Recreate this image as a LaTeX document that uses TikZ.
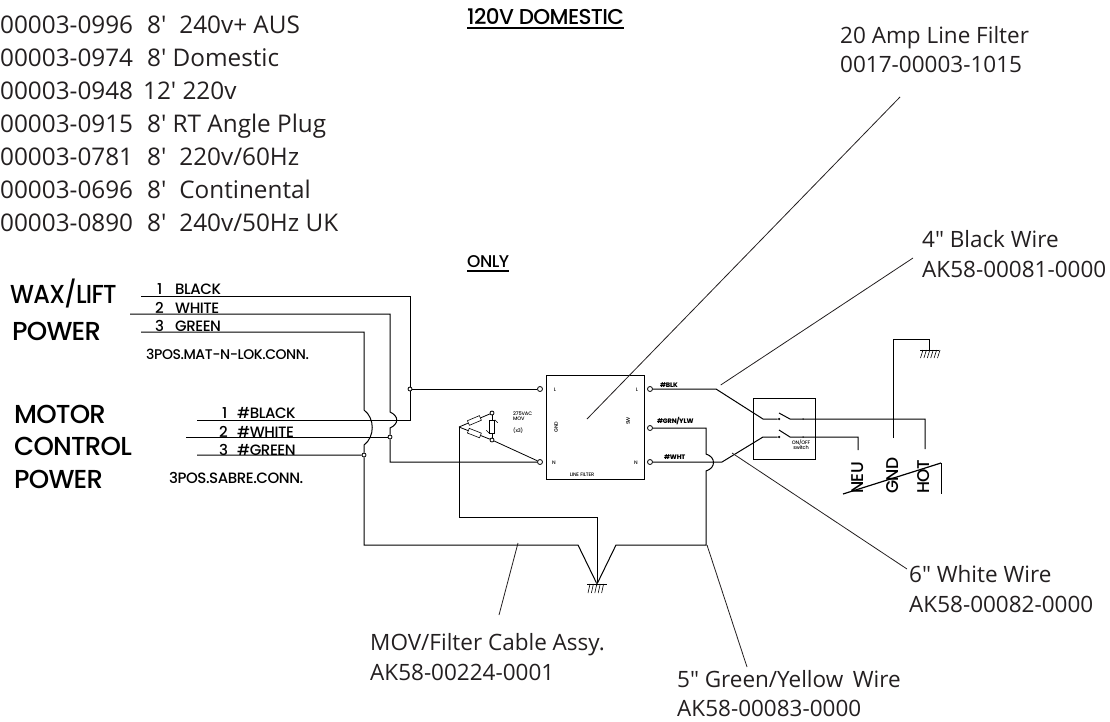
\documentclass[tikz,border=0pt]{standalone}
\usepackage{fontspec}
\setmainfont{Open Sans}
\newfontfamily\cadfont[LetterSpace=-3,UprightFont=* Medium]{Poppins}
\usetikzlibrary{positioning,calc}
\definecolor{inkc}{HTML}{231F20}

\begin{document}
\begin{tikzpicture}[x=1pt,y=-1pt,
    note/.style={anchor=base west, inner sep=0pt, text=inkc, font=\fontsize{22.5}{26}\selectfont},
    part/.style={anchor=base west, inner sep=0pt, text=inkc, font=\fontsize{24.3}{28}\selectfont},
    cad/.style={anchor=base west, inner sep=0pt, font=\cadfont\fontsize{15}{18}\selectfont},
    cadbig/.style={anchor=base west, inner sep=0pt, font=\cadfont\fontsize{26}{30}\selectfont},
    tiny/.style={inner sep=0pt, font=\cadfont\fontsize{5}{6}\selectfont},
    wirelabel/.style={anchor=base west, inner sep=0pt, font=\cadfont\bfseries\fontsize{6.5}{8}\selectfont},
    wire/.style={draw=black, line width=1pt},
    leader/.style={draw=inkc, line width=0.8pt},
    term/.style={circle, draw=black, line width=0.8pt, fill=white, inner sep=0pt, minimum size=5pt},
    joint/.style={circle, draw=black, line width=0.8pt, inner sep=0pt, minimum size=4pt},
    pin/.style={circle, fill=black, inner sep=0pt, minimum size=2.5pt},
    mov/.style={rectangle, draw=black, line width=0.6pt, fill=white, inner sep=0pt, minimum width=13pt, minimum height=5pt}]

\useasboundingbox (0,0) rectangle (1110,721);

\node [part] (l1) at (0,33) {00003-0996\hspace{14pt}8′\hspace{13pt}240v+ AUS};
\node [part] (l2) at (0,66) {00003-0974\hspace{14pt}8′ Domestic};
\node [part] (l3) at (0,99) {00003-0948\hspace{10pt}12′ 220v};
\node [part] (l4) at (0,132) {00003-0915\hspace{14pt}8′ RT Angle Plug};
\node [part] (l5) at (0,165) {00003-0781\hspace{14pt}8′\hspace{13pt}220v/60Hz};
\node [part] (l6) at (0,198) {00003-0696\hspace{14pt}8′\hspace{13pt}Continental};
\node [part] (l7) at (0,231) {00003-0890\hspace{14pt}8′\hspace{13pt}240v/50Hz UK};

\node [cad, font=\cadfont\fontsize{21.5}{24}\selectfont] (domestic) at (467,24) {120V DOMESTIC};
\node [cad, font=\cadfont\fontsize{17}{20}\selectfont] (only) at (467,267) {ONLY};
\draw [line width=2pt] (domestic.base west)++(0,4) -- ($(domestic.base east)+(0,4)$);
\draw [line width=1.4pt] (only.base west)++(0,4) -- ($(only.base east)+(0,4)$);

\node [cadbig] (wax) at (10,303) {\scalebox{0.92}[1]{WAX/LIFT}};
\node [cadbig] (pow1) at (12,340) {POWER};
\node [cadbig] (motor) at (14,423) {MOTOR};
\node [cadbig] (control) at (14,455) {CONTROL};
\node [cadbig] (pow2) at (14,488) {POWER};

\node [cad] (n1) at (157,294) {1};
\node [cad] (black) at (175,294) {BLACK};
\node [cad] (n2) at (155,313) {2};
\node [cad] (white) at (175,313) {WHITE};
\node [cad] (n3) at (155,331) {3};
\node [cad] (green) at (175,331) {GREEN};
\node [cad, font=\cadfont\fontsize{14}{16}\selectfont] (matn) at (146,359) {3POS.MAT-N-LOK.CONN.};

\node [cad] (m1) at (222,418) {1};
\node [cad] (mblack) at (237,418) {\#BLACK};
\node [cad] (m2) at (219,437) {2};
\node [cad] (mwhite) at (237,437) {\#WHITE};
\node [cad] (m3) at (219,455) {3};
\node [cad] (mgreen) at (237,455) {\#GREEN};
\node [cad] (sabre) at (169,483) {3POS.SABRE.CONN.};

\node [draw=black, line width=1pt, minimum width=98pt, minimum height=104pt, inner sep=0pt] (filter) at (595,427) {};
\node [draw=black, line width=1pt, minimum width=62pt, minimum height=61pt, inner sep=0pt] (switch) at (784,428.5) {};

\node [term] (tl) at (540,389) {};
\node [term] (tn) at (540,462) {};
\node [term] (ol) at (650,389) {};
\node [term] (og) at (650,428) {};
\node [term] (on) at (650,462) {};

\node [tiny] (fl) at (555,390) {L};
\node [tiny] (fn) at (554,463) {N};
\node [tiny, rotate=90] (fg) at (556,427) {GND};
\node [tiny] (linef) at (582,475) {LINE FILTER};
\node [tiny] (rl) at (637,390) {L};
\node [tiny] (rn) at (636,463) {N};
\node [tiny, rotate=90] (rg) at (628,421) {SW};
\node [tiny, anchor=base west] (v275) at (513,415) {275VAC};
\node [tiny, anchor=base west] (vmov) at (513,420) {MOV};
\node [tiny, anchor=base west] (vx3) at (513,432) {(x3)};
\node [tiny] (onoff) at (801,443) {ON/OFF};
\node [tiny] (swt) at (801,448) {switch};

\node [wirelabel] (wblk) at (660,387) {\#BLK};
\node [wirelabel] (wgrn) at (657,423) {\#GRN/YLW};
\node [wirelabel] (wwht) at (664,459) {\#WHT};

\node [joint] (j1) at (410,389) {};
\node [joint] (j2) at (390,437) {};
\node [joint] (j3) at (364,455) {};
\node [joint] (mt) at (492,413) {};
\node [joint] (mb) at (492,440) {};
\node [pin] (gnd1) at (597,584) {};
\node [pin] (p1) at (779,419) {};
\node [pin] (p2) at (779,437) {};
\node [pin, minimum size=1.5pt] (p3) at (803,419) {};
\node [pin, minimum size=1.5pt] (p4) at (803,437) {};

\coordinate (blk) at (141,296);
\coordinate (wht) at (130,314);
\coordinate (grn) at (141,332);
\coordinate (mblk) at (197,420);
\coordinate (mwht) at (186,437);
\coordinate (mgrn) at (197,455);
\coordinate (apex) at (459,427);

\draw [wire] (blk) -| (j1) -- (410,420) -- (mblk);
\draw [wire] (j1) -- (tl);
\draw [wire] (wht) -- (390,314) -- (390,412) .. controls (399,416) and (399,424) .. (390,428) -- (j2) -- (390,462) -- (tn);
\draw [wire] (mwht) -- (j2);
\draw [wire] (grn) -- (364,332) -- (364,410) .. controls (375,418) and (375,437) .. (364,445) -- (j3);
\draw [wire] (mgrn) -- (j3) -- (364,545) -- (578,545) -- (gnd1) -- (616,545) -- (706,545) -- (706,471) .. controls (716,468) and (716,457) .. (706,454) -- (706,428) -- (og);
\draw [wire] (apex) -- (459,517) -- (597,517) -- (gnd1);

\draw [wire, line width=0.8pt] (apex) -- node[mov, sloped] (r1) {} (mt);
\draw [wire, line width=0.8pt] (apex) -- node[mov, sloped] (r2) {} (mb);
\draw [wire, line width=0.8pt] (mt) -- node[mov, sloped] (r3) {} (mb);
\draw [line width=0.5pt] (r3.south east) -- ++(-3,-3) (r3.north west) -- ++(3,3);
\draw [wire, line width=0.8pt] (mb) -- (tn);

\draw [wire] (ol) -- (716,389) -- (763,419) -- (p1);
\draw [wire] (on) -- (722,462) -- (763,437) -- (p2);
\draw [wire] (779,413) -- (790,419) -- (925,419) -- (925,449);
\draw [wire] (779,430) -- (790,437) -- (858,437) -- (858,450);

\coordinate (gtop) at (893,339);
\coordinate (ghat) at (929,350);
\draw [wire] (893,438) -- (gtop) -| (ghat);
\draw [line width=0.7pt] (920,350) -- (939,350);
\foreach \i in {0,1,2,3,4,5} \draw [line width=0.6pt] ($(ghat)+(-6+3.4*\i,0)$) -- ++(-2.5,8);
\draw [line width=0.7pt] (587,584) -- (607,584);
\foreach \i in {0,1,2,3,4} \draw [line width=0.6pt] ($(gnd1)+(-7+3.4*\i,0)$) -- ++(-2,9);

\node [cad, rotate=90, anchor=base west, font=\cadfont\fontsize{17}{20}\selectfont] (neu) at (863,494) {NEU};
\node [cad, rotate=90, anchor=base west, font=\cadfont\fontsize{17}{20}\selectfont] (gnd) at (898,494) {GND};
\node [cad, rotate=90, anchor=base west, font=\cadfont\fontsize{17}{20}\selectfont] (hot) at (929,494) {HOT};
\draw [line width=1.2pt] (843,494) -- (941,463);
\draw [line width=0.8pt] (941,463) -- (941,494);

\node [note] (t20a) at (840,43) {20 Amp Line Filter};
\node [note] (t20b) at (840,72) {0017-00003-1015};
\node [note] (t4a) at (922,247) {4″ Black Wire};
\node [note] (t4b) at (922,277) {AK58-00081-0000};
\node [note] (t6a) at (909,582) {6″ White Wire};
\node [note] (t6b) at (909,612) {AK58-00082-0000};
\node [note] (tma) at (370,650) {MOV/Filter Cable Assy.};
\node [note] (tmb) at (370,680) {AK58-00224-0001};
\node [note] (t5a) at (677,687) {5″ Green/Yellow\, Wire};
\node [note] (t5b) at (677,716) {AK58-00083-0000};

\coordinate (e20a) at (900,97);
\coordinate (e20b) at (587,419);
\coordinate (e4a) at (913,258);
\coordinate (e4b) at (720.7,385);
\coordinate (e6a) at (907,569);
\coordinate (e6b) at (732,453);
\coordinate (ema) at (499,615);
\coordinate (emb) at (518,543);
\coordinate (e5a) at (747,667);
\coordinate (e5b) at (707,545);

\draw [leader] (e20a) -- (e20b);
\draw [leader] (e4a) -- (e4b);
\draw [leader] (e6a) -- (e6b);
\draw [leader] (ema) -- (emb);
\draw [leader] (e5a) -- (e5b);

\end{tikzpicture}
\end{document}
